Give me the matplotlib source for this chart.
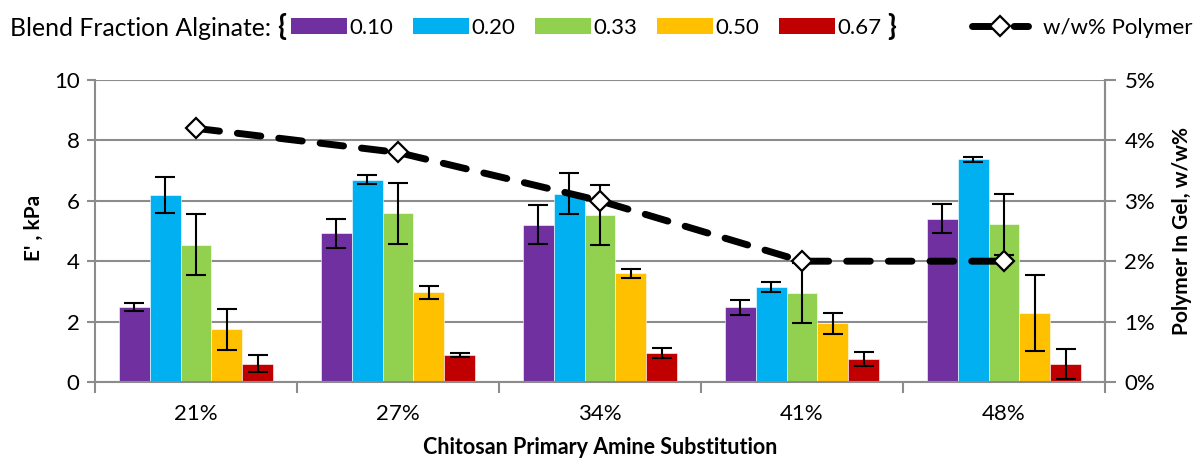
import matplotlib
matplotlib.use("Agg")
import matplotlib.pyplot as plt
import numpy as np
from matplotlib.ticker import FuncFormatter
from matplotlib.lines import Line2D

# Data
categories = ["21%", "27%", "34%", "41%", "48%"]
fractions = ["0.10", "0.20", "0.33", "0.50", "0.67"]
colors = ["#7030A0", "#00B0F0", "#92D050", "#FFC000", "#C00000"]

modulus_010 = [2.47, 4.92, 5.21, 2.47, 5.41]
modulus_020 = [6.19, 6.70, 6.24, 3.14, 7.37]
modulus_033 = [4.55, 5.59, 5.52, 2.95, 5.22]
modulus_050 = [1.74, 2.97, 3.60, 1.95, 2.28]
modulus_067 = [0.61, 0.89, 0.96, 0.75, 0.59]

err_010 = [0.13, 0.48, 0.64, 0.26, 0.49]
err_020 = [0.60, 0.15, 0.68, 0.16, 0.07]
err_033 = [1.00, 1.01, 1.00, 1.00, 1.00]
err_050 = [0.69, 0.21, 0.15, 0.35, 1.25]
err_067 = [0.27, 0.07, 0.15, 0.23, 0.50]

polymer_pct = [4.2, 3.8, 3.0, 2.0, 2.0]

series = [modulus_010, modulus_020, modulus_033, modulus_050, modulus_067]
errors = [err_010, err_020, err_033, err_050, err_067]

plt.rcParams["font.family"] = ["Lato", "DejaVu Sans"]
GRAY = "#8c8c8c"
W, H = 1195, 459

fig = plt.figure(figsize=(W / 100, H / 100), dpi=100)
ax = fig.add_axes([95 / W, 1 - 382 / H, 1010 / W, 302 / H])

x = np.arange(len(categories))
w = 0.153
handles = []
for j, (vals, errs, col, lab) in enumerate(zip(series, errors, colors, fractions)):
    b = ax.bar(x + (j - 2) * w, vals, width=w, color=col, label=lab,
               edgecolor="white", linewidth=0.4, zorder=2,
               yerr=errs, error_kw=dict(ecolor="black", elinewidth=1.5,
                                        capsize=7, capthick=1.5, zorder=3))
    handles.append(b)

ax.set_xlim(-0.5, len(categories) - 0.5)
ax.set_ylim(0, 10)
ax.set_yticks(np.arange(0, 11, 2))
ax.grid(axis="y", color=GRAY, linewidth=1.5, zorder=0)
ax.set_axisbelow(True)
ax.set_xticks(x)
ax.set_xticklabels(categories, fontsize=16)
ax.set_xticks(np.arange(-0.5, len(categories)), minor=True)
ax.tick_params(axis="x", which="major", length=0, pad=16)
ax.tick_params(axis="x", which="minor", length=8, width=1.5, color=GRAY)
ax.tick_params(axis="y", labelsize=16, length=6, width=1.5, color=GRAY, pad=5)
ax.spines["top"].set_visible(False)
for s in ["left", "bottom", "right"]:
    ax.spines[s].set_color(GRAY)
    ax.spines[s].set_linewidth(1.5)
ax.set_ylabel("E' , kPa", fontsize=15, fontweight="bold", va="center")
ax.yaxis.set_label_coords((34 - 95) / 1010, (382 - 228) / 302)
ax.set_xlabel("Chitosan Primary Amine Substitution", fontsize=15.5,
              fontweight="bold", va="center")
ax.xaxis.set_label_coords(0.5, (382 - 447) / 302)

ax2 = ax.twinx()
ax2.set_ylim(0, 5)
ax2.set_yticks(np.arange(0, 6, 1))
ax2.yaxis.set_major_formatter(FuncFormatter(lambda v, p: f"{v:.0f}%"))
ax2.tick_params(axis="y", labelsize=16, length=8, width=1.5, color=GRAY, pad=6)
for s in ["top", "left", "bottom"]:
    ax2.spines[s].set_visible(False)
ax2.spines["right"].set_color(GRAY)
ax2.spines["right"].set_linewidth(1.5)
line_style = dict(color="black", linewidth=5, dashes=(3.4, 2.6),
                  dash_capstyle="round", marker="D", markersize=10,
                  markerfacecolor="white", markeredgecolor="black",
                  markeredgewidth=1.6)
ax2.plot(x, polymer_pct, zorder=5, label="w/w% Polymer", **line_style)
ax2.set_ylabel("Polymer In Gel, w/w%", fontsize=15, fontweight="bold",
               va="center")
ax2.yaxis.set_label_coords((1182 - 95) / 1010, (382 - 231) / 302)

# Legend row across the top
ROW_Y = 1 - 28 / H
fig.text(10 / W, ROW_Y, "Blend Fraction Alginate:", fontsize=17.8,
         va="center", ha="left")
fig.text(282 / W, 1 - 26 / H, "{", fontsize=21, fontweight="bold",
         va="center", ha="center")
LEG_FS = 16
fs_px = LEG_FS * 100 / 72
for j, (h, lab) in enumerate(zip(handles, fractions)):
    leg = fig.legend(handles=[h], labels=[lab], frameon=False,
                     loc="center left",
                     bbox_to_anchor=((291 + 122 * j) / W, ROW_Y),
                     fontsize=LEG_FS, handlelength=56 / fs_px,
                     handleheight=16 / fs_px, handletextpad=2 / fs_px,
                     borderpad=0, borderaxespad=0)
    for lh in leg.legend_handles:
        lh.set_edgecolor("none")
fig.text(892 / W, 1 - 26 / H, "}", fontsize=21, fontweight="bold",
         va="center", ha="center")
lh = Line2D([], [], **line_style)
fig.legend(handles=[lh], labels=["w/w% Polymer"], frameon=False,
           loc="center left", bbox_to_anchor=(972 / W, ROW_Y),
           fontsize=16, handlelength=56 / (16 * 100 / 72),
           handletextpad=15 / (16 * 100 / 72), borderpad=0, borderaxespad=0)

fig.savefig("out.png", dpi=100)
